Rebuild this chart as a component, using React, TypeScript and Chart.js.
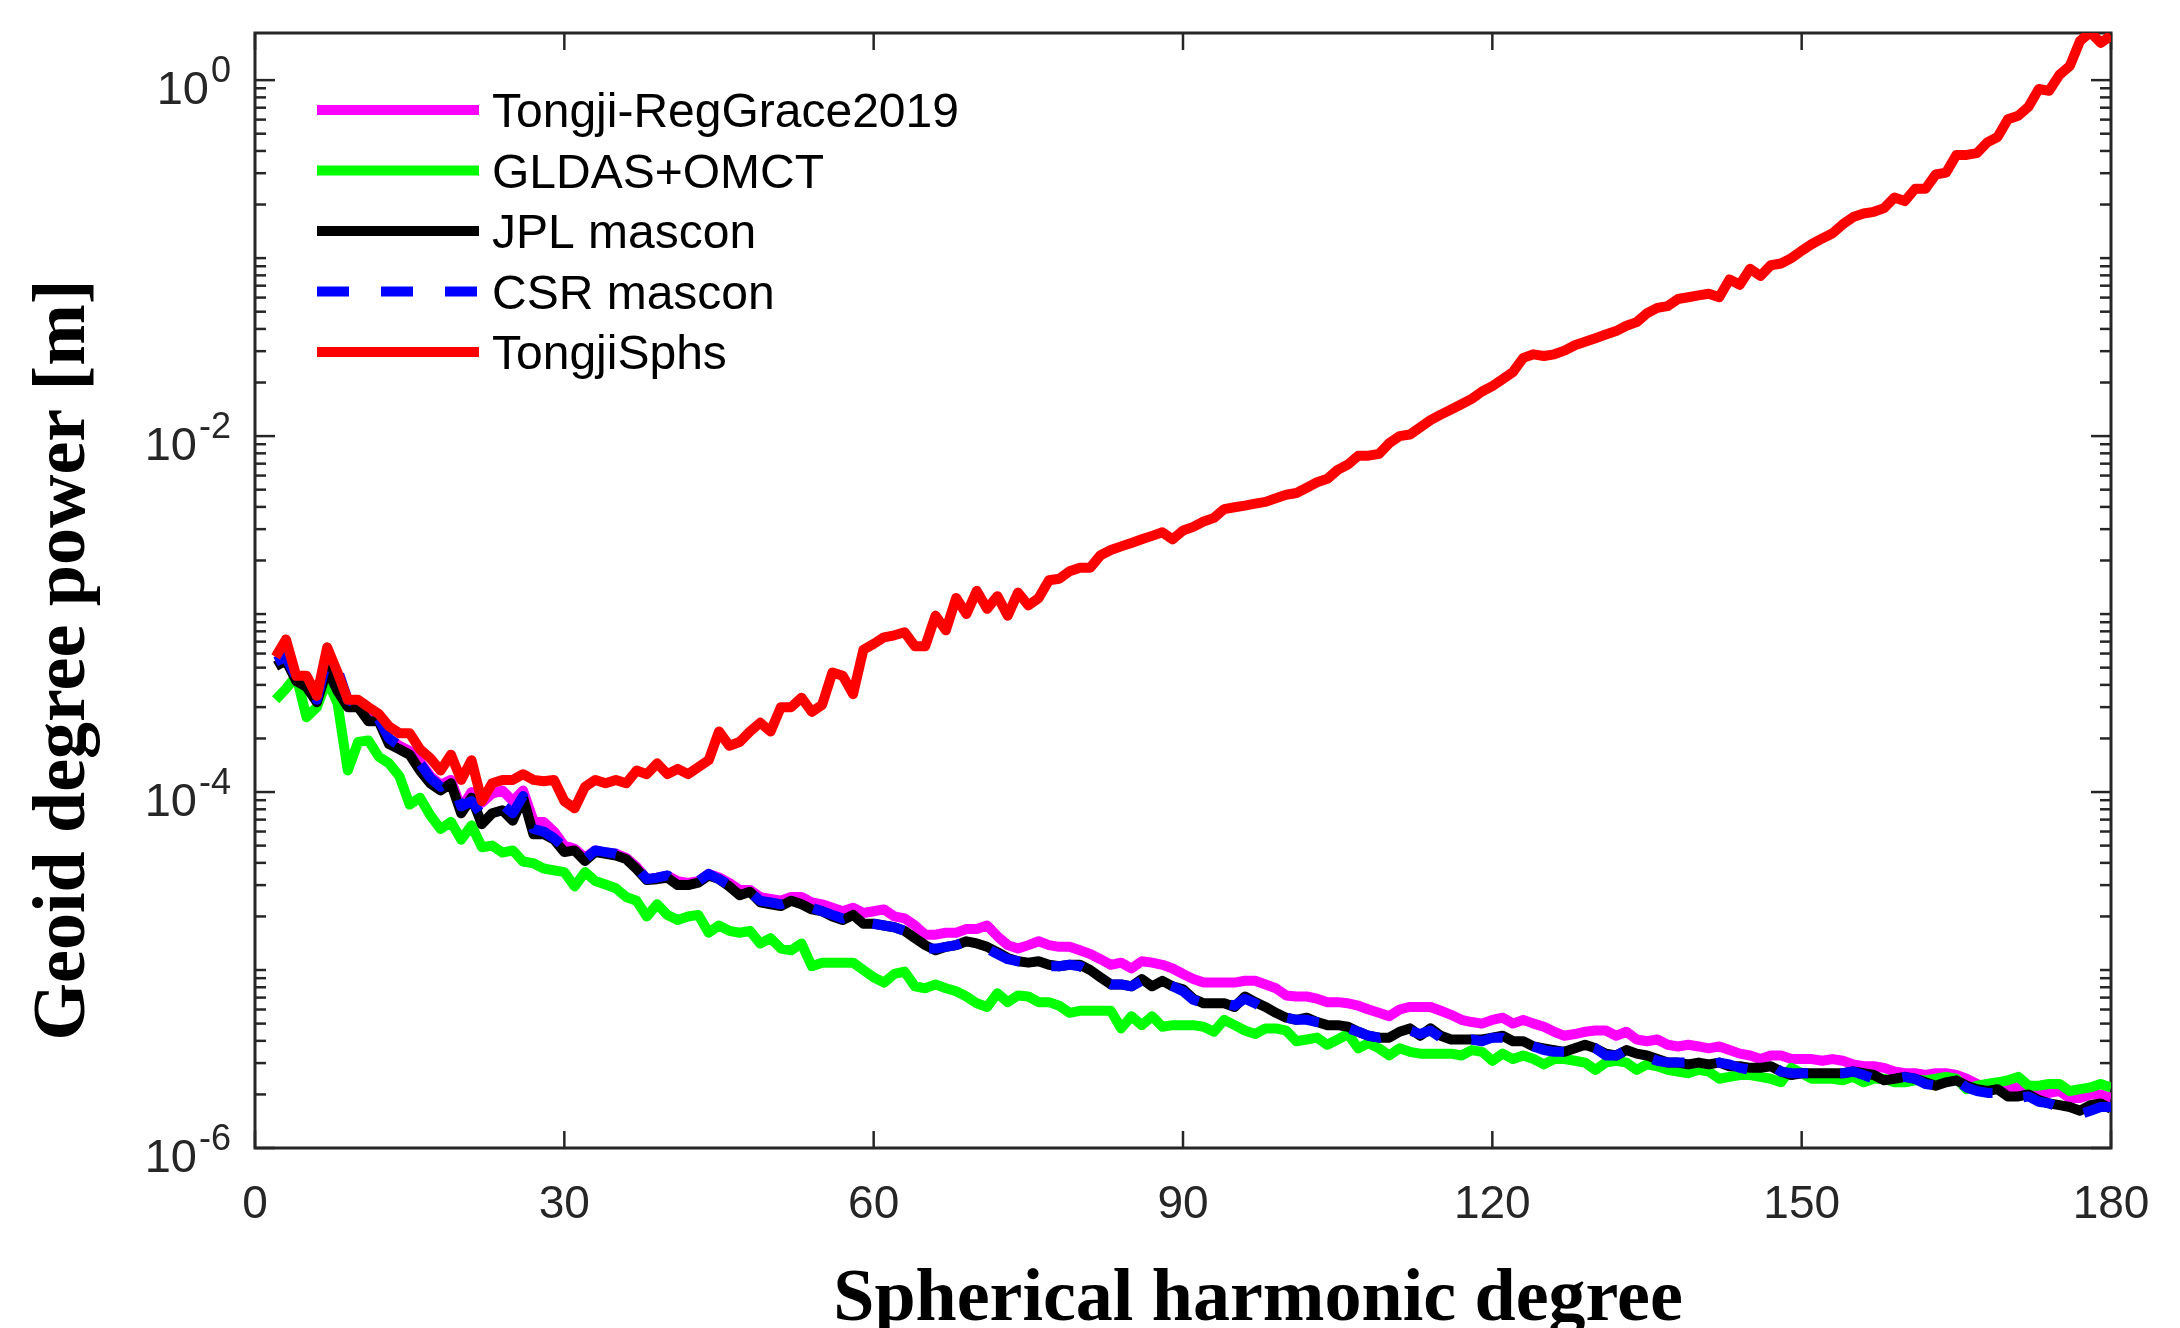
import React, { useEffect, useRef } from "react";
import { Chart, registerables } from "chart.js";

Chart.register(...registerables);

// Spherical harmonic degrees (x values)
const degrees = [
  2, 3, 4, 5, 6, 7, 8, 9, 10, 11,
  12, 13, 14, 15, 16, 17, 18, 19, 20, 21,
  22, 23, 24, 25, 26, 27, 28, 29, 30, 31,
  32, 33, 34, 35, 36, 37, 38, 39, 40, 41,
  42, 43, 44, 45, 46, 47, 48, 49, 50, 51,
  52, 53, 54, 55, 56, 57, 58, 59, 60, 61,
  62, 63, 64, 65, 66, 67, 68, 69, 70, 71,
  72, 73, 74, 75, 76, 77, 78, 79, 80, 81,
  82, 83, 84, 85, 86, 87, 88, 89, 90, 91,
  92, 93, 94, 95, 96, 97, 98, 99, 100, 101,
  102, 103, 104, 105, 106, 107, 108, 109, 110, 111,
  112, 113, 114, 115, 116, 117, 118, 119, 120, 121,
  122, 123, 124, 125, 126, 127, 128, 129, 130, 131,
  132, 133, 134, 135, 136, 137, 138, 139, 140, 141,
  142, 143, 144, 145, 146, 147, 148, 149, 150, 151,
  152, 153, 154, 155, 156, 157, 158, 159, 160, 161,
  162, 163, 164, 165, 166, 167, 168, 169, 170, 171,
  172, 173, 174, 175, 176, 177, 178, 179, 180,
];

// Tongji-RegGrace2019 (magenta)
const regGrace = [
  5.4e-4, 5.6e-4, 4.27e-4, 4.0e-4, 3.24e-4, 5.0e-4, 4.0e-4, 3.16e-4, 3.09e-4, 2.63e-4,
  2.57e-4, 2.0e-4, 1.82e-4, 1.7e-4, 1.48e-4, 1.23e-4, 1.1e-4, 1.17e-4, 8.1e-5, 1.0e-4,
  8.7e-5, 9.8e-5, 1.02e-4, 8.9e-5, 1.02e-4, 6.9e-5, 6.8e-5, 6.0e-5, 5.0e-5, 4.8e-5,
  4.27e-5, 4.7e-5, 4.57e-5, 4.5e-5, 4.27e-5, 3.8e-5, 3.24e-5, 3.3e-5, 3.39e-5, 3.16e-5,
  3.09e-5, 3.16e-5, 3.47e-5, 3.31e-5, 3.09e-5, 2.82e-5, 2.82e-5, 2.57e-5, 2.51e-5, 2.45e-5,
  2.57e-5, 2.57e-5, 2.4e-5, 2.34e-5, 2.24e-5, 2.14e-5, 2.24e-5, 2.09e-5, 2.14e-5, 2.19e-5,
  2.0e-5, 1.95e-5, 1.78e-5, 1.58e-5, 1.58e-5, 1.62e-5, 1.62e-5, 1.7e-5, 1.7e-5, 1.78e-5,
  1.55e-5, 1.38e-5, 1.32e-5, 1.38e-5, 1.45e-5, 1.38e-5, 1.35e-5, 1.35e-5, 1.29e-5, 1.23e-5,
  1.15e-5, 1.07e-5, 1.1e-5, 1.02e-5, 1.12e-5, 1.1e-5, 1.07e-5, 1.02e-5, 9.5e-6, 8.9e-6,
  8.5e-6, 8.5e-6, 8.5e-6, 8.5e-6, 8.7e-6, 8.7e-6, 8.3e-6, 7.9e-6, 7.2e-6, 7.1e-6,
  7.1e-6, 6.9e-6, 6.6e-6, 6.6e-6, 6.5e-6, 6.3e-6, 6.0e-6, 5.75e-6, 5.5e-6, 6.0e-6,
  6.2e-6, 6.2e-6, 6.2e-6, 5.9e-6, 5.6e-6, 5.25e-6, 5.1e-6, 5.0e-6, 5.25e-6, 5.4e-6,
  5.0e-6, 5.25e-6, 5.0e-6, 4.8e-6, 4.5e-6, 4.27e-6, 4.37e-6, 4.5e-6, 4.57e-6, 4.57e-6,
  4.27e-6, 4.5e-6, 4.07e-6, 3.98e-6, 4.07e-6, 3.8e-6, 3.72e-6, 3.8e-6, 3.72e-6, 3.63e-6,
  3.72e-6, 3.55e-6, 3.39e-6, 3.31e-6, 3.16e-6, 3.31e-6, 3.31e-6, 3.16e-6, 3.16e-6, 3.16e-6,
  3.09e-6, 3.16e-6, 3.09e-6, 2.95e-6, 2.88e-6, 2.88e-6, 2.82e-6, 2.69e-6, 2.63e-6, 2.63e-6,
  2.57e-6, 2.63e-6, 2.63e-6, 2.57e-6, 2.45e-6, 2.29e-6, 2.19e-6, 2.14e-6, 2.14e-6, 2.19e-6,
  2.14e-6, 2.04e-6, 2.04e-6, 2.09e-6, 1.91e-6, 1.91e-6, 2.0e-6, 2.0e-6, 1.91e-6,
];

// GLDAS+OMCT (green)
const gldasOmct = [
  3.3e-4, 3.8e-4, 4.5e-4, 2.63e-4, 3.0e-4, 4.27e-4, 3.16e-4, 1.32e-4, 1.91e-4, 1.95e-4,
  1.58e-4, 1.45e-4, 1.23e-4, 8.5e-5, 9.3e-5, 7.4e-5, 6.2e-5, 6.8e-5, 5.4e-5, 6.5e-5,
  4.9e-5, 5.0e-5, 4.57e-5, 4.7e-5, 4.07e-5, 3.98e-5, 3.72e-5, 3.63e-5, 3.55e-5, 2.95e-5,
  3.55e-5, 3.16e-5, 3.02e-5, 2.88e-5, 2.57e-5, 2.45e-5, 2.0e-5, 2.34e-5, 2.04e-5, 1.91e-5,
  2.0e-5, 2.04e-5, 1.62e-5, 1.78e-5, 1.66e-5, 1.62e-5, 1.66e-5, 1.41e-5, 1.51e-5, 1.32e-5,
  1.29e-5, 1.41e-5, 1.05e-5, 1.1e-5, 1.1e-5, 1.1e-5, 1.1e-5, 1.0e-5, 9.1e-6, 8.5e-6,
  9.5e-6, 9.8e-6, 8.1e-6, 7.9e-6, 8.3e-6, 7.9e-6, 7.6e-6, 7.1e-6, 6.5e-6, 6.2e-6,
  7.4e-6, 6.6e-6, 7.2e-6, 7.1e-6, 6.6e-6, 6.6e-6, 6.3e-6, 5.75e-6, 5.9e-6, 5.9e-6,
  5.9e-6, 5.9e-6, 4.7e-6, 5.5e-6, 4.9e-6, 5.5e-6, 4.8e-6, 4.9e-6, 4.9e-6, 4.9e-6,
  4.8e-6, 4.5e-6, 5.25e-6, 4.9e-6, 4.57e-6, 4.37e-6, 4.7e-6, 4.7e-6, 4.57e-6, 3.98e-6,
  4.07e-6, 4.17e-6, 3.8e-6, 4.07e-6, 4.37e-6, 3.63e-6, 3.89e-6, 3.63e-6, 3.31e-6, 3.63e-6,
  3.47e-6, 3.39e-6, 3.39e-6, 3.39e-6, 3.39e-6, 3.31e-6, 3.55e-6, 3.47e-6, 3.09e-6, 3.39e-6,
  3.16e-6, 3.31e-6, 3.16e-6, 2.95e-6, 3.16e-6, 3.16e-6, 3.09e-6, 3.02e-6, 2.75e-6, 3.02e-6,
  3.09e-6, 3.02e-6, 2.75e-6, 2.95e-6, 2.88e-6, 2.75e-6, 2.69e-6, 2.63e-6, 2.75e-6, 2.69e-6,
  2.45e-6, 2.51e-6, 2.57e-6, 2.57e-6, 2.51e-6, 2.45e-6, 2.34e-6, 2.82e-6, 2.63e-6, 2.45e-6,
  2.45e-6, 2.45e-6, 2.4e-6, 2.51e-6, 2.34e-6, 2.45e-6, 2.45e-6, 2.34e-6, 2.34e-6, 2.4e-6,
  2.4e-6, 2.45e-6, 2.51e-6, 2.45e-6, 2.14e-6, 2.24e-6, 2.29e-6, 2.34e-6, 2.4e-6, 2.51e-6,
  2.24e-6, 2.24e-6, 2.29e-6, 2.29e-6, 2.09e-6, 2.14e-6, 2.19e-6, 2.29e-6, 2.19e-6,
];

// JPL mascon (black)
const jplMascon = [
  5.1e-4, 5.5e-4, 4.2e-4, 3.9e-4, 3.2e-4, 4.9e-4, 3.7e-4, 3.0e-4, 3.0e-4, 2.5e-4,
  2.5e-4, 1.86e-4, 1.74e-4, 1.62e-4, 1.32e-4, 1.12e-4, 1.02e-4, 1.12e-4, 7.6e-5, 9.3e-5,
  6.6e-5, 7.6e-5, 7.9e-5, 6.9e-5, 9.3e-5, 5.8e-5, 5.8e-5, 5.4e-5, 4.6e-5, 4.7e-5,
  4.1e-5, 4.6e-5, 4.5e-5, 4.4e-5, 4.2e-5, 3.7e-5, 3.2e-5, 3.24e-5, 3.3e-5, 3.0e-5,
  3.0e-5, 3.1e-5, 3.4e-5, 3.24e-5, 2.95e-5, 2.63e-5, 2.75e-5, 2.4e-5, 2.34e-5, 2.29e-5,
  2.45e-5, 2.34e-5, 2.19e-5, 2.14e-5, 2.0e-5, 1.91e-5, 2.04e-5, 1.82e-5, 1.82e-5, 1.78e-5,
  1.74e-5, 1.66e-5, 1.51e-5, 1.38e-5, 1.29e-5, 1.35e-5, 1.38e-5, 1.45e-5, 1.41e-5, 1.35e-5,
  1.26e-5, 1.17e-5, 1.12e-5, 1.1e-5, 1.12e-5, 1.07e-5, 1.05e-5, 1.07e-5, 1.07e-5, 1.0e-5,
  9.1e-6, 8.3e-6, 8.3e-6, 8.1e-6, 8.9e-6, 8.1e-6, 8.7e-6, 8.1e-6, 7.8e-6, 6.9e-6,
  6.5e-6, 6.5e-6, 6.5e-6, 6.2e-6, 7.1e-6, 6.6e-6, 6.2e-6, 5.75e-6, 5.4e-6, 5.25e-6,
  5.4e-6, 5.1e-6, 4.9e-6, 4.9e-6, 4.8e-6, 4.5e-6, 4.27e-6, 4.17e-6, 4.17e-6, 4.5e-6,
  4.7e-6, 4.27e-6, 4.7e-6, 4.27e-6, 4.07e-6, 4.07e-6, 4.07e-6, 4.07e-6, 4.17e-6, 4.27e-6,
  3.98e-6, 3.98e-6, 3.72e-6, 3.63e-6, 3.55e-6, 3.47e-6, 3.63e-6, 3.8e-6, 3.63e-6, 3.39e-6,
  3.31e-6, 3.55e-6, 3.39e-6, 3.31e-6, 3.16e-6, 3.02e-6, 3.02e-6, 2.95e-6, 3.02e-6, 2.95e-6,
  3.02e-6, 2.88e-6, 2.88e-6, 2.82e-6, 2.82e-6, 2.88e-6, 2.69e-6, 2.57e-6, 2.63e-6, 2.63e-6,
  2.63e-6, 2.63e-6, 2.63e-6, 2.69e-6, 2.63e-6, 2.57e-6, 2.4e-6, 2.45e-6, 2.51e-6, 2.45e-6,
  2.34e-6, 2.24e-6, 2.34e-6, 2.4e-6, 2.24e-6, 2.14e-6, 2.09e-6, 2.14e-6, 1.95e-6, 1.95e-6,
  2.0e-6, 1.86e-6, 1.78e-6, 1.74e-6, 1.7e-6, 1.62e-6, 1.74e-6, 1.78e-6, 1.66e-6,
];

// CSR mascon (blue dashed)
const csrMascon = [
  5.4e-4, 5.75e-4, 4.4e-4, 4.1e-4, 3.3e-4, 5.6e-4, 4.9e-4, 3.3e-4, 3.1e-4, 2.63e-4,
  2.57e-4, 2.0e-4, 1.82e-4, 1.66e-4, 1.45e-4, 1.2e-4, 1.07e-4, 1.17e-4, 8.3e-5, 8.9e-5,
  7.4e-5, 8.3e-5, 8.5e-5, 7.6e-5, 9.5e-5, 6.2e-5, 6.0e-5, 5.5e-5, 4.9e-5, 4.7e-5,
  4.2e-5, 4.7e-5, 4.6e-5, 4.5e-5, 4.27e-5, 3.8e-5, 3.24e-5, 3.3e-5, 3.4e-5, 3.1e-5,
  3.1e-5, 3.16e-5, 3.47e-5, 3.24e-5, 3.0e-5, 2.69e-5, 2.75e-5, 2.45e-5, 2.4e-5, 2.34e-5,
  2.45e-5, 2.4e-5, 2.24e-5, 2.14e-5, 2.04e-5, 1.95e-5, 2.04e-5, 1.86e-5, 1.82e-5, 1.78e-5,
  1.74e-5, 1.66e-5, 1.48e-5, 1.32e-5, 1.32e-5, 1.35e-5, 1.38e-5, 1.45e-5, 1.41e-5, 1.32e-5,
  1.23e-5, 1.15e-5, 1.12e-5, 1.1e-5, 1.1e-5, 1.05e-5, 1.05e-5, 1.07e-5, 1.05e-5, 9.8e-6,
  8.9e-6, 8.3e-6, 8.3e-6, 8.1e-6, 8.7e-6, 8.3e-6, 8.5e-6, 8.1e-6, 7.6e-6, 6.8e-6,
  6.5e-6, 6.6e-6, 6.5e-6, 6.3e-6, 6.9e-6, 6.5e-6, 6.0e-6, 5.6e-6, 5.4e-6, 5.25e-6,
  5.25e-6, 5.1e-6, 5.0e-6, 4.9e-6, 4.7e-6, 4.5e-6, 4.27e-6, 4.17e-6, 4.27e-6, 4.57e-6,
  4.57e-6, 4.37e-6, 4.57e-6, 4.17e-6, 4.07e-6, 3.98e-6, 4.07e-6, 3.98e-6, 4.17e-6, 4.17e-6,
  3.89e-6, 3.89e-6, 3.72e-6, 3.55e-6, 3.47e-6, 3.47e-6, 3.72e-6, 3.8e-6, 3.63e-6, 3.31e-6,
  3.31e-6, 3.55e-6, 3.39e-6, 3.24e-6, 3.09e-6, 3.02e-6, 3.02e-6, 3.02e-6, 3.02e-6, 2.95e-6,
  3.02e-6, 2.95e-6, 2.82e-6, 2.75e-6, 2.82e-6, 2.95e-6, 2.69e-6, 2.63e-6, 2.63e-6, 2.63e-6,
  2.63e-6, 2.63e-6, 2.63e-6, 2.69e-6, 2.57e-6, 2.45e-6, 2.4e-6, 2.45e-6, 2.51e-6, 2.45e-6,
  2.29e-6, 2.24e-6, 2.4e-6, 2.4e-6, 2.19e-6, 2.09e-6, 2.04e-6, 2.04e-6, 1.91e-6, 1.91e-6,
  1.95e-6, 1.82e-6, 1.78e-6, 1.7e-6, 1.62e-6, 1.55e-6, 1.62e-6, 1.7e-6, 1.7e-6,
];

// TongjiSphs (red)
const tongjiSphs = [
  5.75e-4, 7.2e-4, 4.5e-4, 4.5e-4, 3.47e-4, 6.5e-4, 4.7e-4, 3.3e-4, 3.3e-4, 3.0e-4,
  2.75e-4, 2.34e-4, 2.14e-4, 2.14e-4, 1.74e-4, 1.55e-4, 1.32e-4, 1.62e-4, 1.17e-4, 1.51e-4,
  8.9e-5, 1.12e-4, 1.17e-4, 1.17e-4, 1.26e-4, 1.17e-4, 1.15e-4, 1.17e-4, 8.9e-5, 8.1e-5,
  1.07e-4, 1.17e-4, 1.12e-4, 1.17e-4, 1.12e-4, 1.32e-4, 1.26e-4, 1.45e-4, 1.26e-4, 1.35e-4,
  1.26e-4, 1.38e-4, 1.51e-4, 2.19e-4, 1.82e-4, 1.91e-4, 2.19e-4, 2.45e-4, 2.19e-4, 3.0e-4,
  3.0e-4, 3.39e-4, 2.82e-4, 3.09e-4, 4.7e-4, 4.5e-4, 3.55e-4, 6.3e-4, 6.8e-4, 7.4e-4,
  7.6e-4, 7.9e-4, 6.6e-4, 6.6e-4, 9.8e-4, 8.1e-4, 1.23e-3, 1.0e-3, 1.35e-3, 1.07e-3,
  1.26e-3, 9.8e-4, 1.32e-3, 1.12e-3, 1.23e-3, 1.55e-3, 1.58e-3, 1.74e-3, 1.82e-3, 1.82e-3,
  2.14e-3, 2.29e-3, 2.4e-3, 2.51e-3, 2.63e-3, 2.75e-3, 2.88e-3, 2.63e-3, 2.95e-3, 3.09e-3,
  3.31e-3, 3.47e-3, 3.89e-3, 3.98e-3, 4.07e-3, 4.17e-3, 4.27e-3, 4.47e-3, 4.68e-3, 4.79e-3,
  5.13e-3, 5.5e-3, 5.75e-3, 6.46e-3, 6.92e-3, 7.76e-3, 7.76e-3, 7.94e-3, 9.12e-3, 1.0e-2,
  1.02e-2, 1.12e-2, 1.23e-2, 1.32e-2, 1.41e-2, 1.51e-2, 1.62e-2, 1.78e-2, 1.91e-2, 2.09e-2,
  2.29e-2, 2.75e-2, 2.88e-2, 2.82e-2, 2.88e-2, 3.02e-2, 3.24e-2, 3.39e-2, 3.55e-2, 3.72e-2,
  3.89e-2, 4.17e-2, 4.37e-2, 4.9e-2, 5.25e-2, 5.37e-2, 5.89e-2, 6.03e-2, 6.17e-2, 6.31e-2,
  6.03e-2, 7.59e-2, 7.08e-2, 8.71e-2, 7.94e-2, 9.12e-2, 9.33e-2, 0.1, 0.11, 0.12,
  0.129, 0.138, 0.155, 0.17, 0.178, 0.182, 0.191, 0.219, 0.209, 0.245,
  0.245, 0.295, 0.302, 0.38, 0.38, 0.389, 0.447, 0.479, 0.603, 0.631,
  0.708, 0.891, 0.871, 1.07, 1.2, 1.66, 1.86, 1.62, 1.78,
];

const seriesNames = ["Tongji-RegGrace2019", "GLDAS+OMCT", "JPL mascon", "CSR mascon", "TongjiSphs"];
const xTickValues = [0, 30, 60, 90, 120, 150, 180];
const yLabelExponents = [-6, -4, -2, 0];
const xTitle = "Spherical harmonic degree";
const yTitle = "Geoid degree power [m]";

const X_MIN = 0;
const X_MAX = 180;
const Y_MIN = 1e-6;
const Y_MAX = 1.84;

const W = 2180;
const H = 1328;
const AXIS_COLOR = "#262626";
const SANS = '"Liberation Sans", Arial, Helvetica, sans-serif';
const SERIF = '"Liberation Serif", "Times New Roman", Times, serif';
const LINE_W = 10;

const seriesStyles = [
  { color: "#ff00ff", dash: [] as number[], order: 5 },
  { color: "#00ff00", dash: [] as number[], order: 4 },
  { color: "#000000", dash: [] as number[], order: 3 },
  { color: "#0000ff", dash: [32, 32], order: 2 },
  { color: "#ff0000", dash: [] as number[], order: 1 },
];

const seriesData = [regGrace, gldasOmct, jplMascon, csrMascon, tongjiSphs];

const matlabAxes = {
  id: "matlabAxes",
  beforeDatasetsDraw(chart: any) {
    const { ctx, chartArea: a } = chart;
    const xs = chart.scales.x;
    const ys = chart.scales.y;
    ctx.save();
    ctx.strokeStyle = AXIS_COLOR;
    ctx.lineCap = "butt";
    ctx.setLineDash([]);
    const seg = (x1: number, y1: number, x2: number, y2: number) => {
      ctx.beginPath();
      ctx.moveTo(x1, y1);
      ctx.lineTo(x2, y2);
      ctx.stroke();
    };
    ctx.lineWidth = 2.5;
    for (const v of xTickValues) {
      const px = xs.getPixelForValue(v);
      seg(px, a.bottom, px, a.bottom - 17);
      seg(px, a.top, px, a.top + 17);
    }
    for (let e = -6; e <= 0; e++) {
      for (let m = 1; m <= 9; m++) {
        const v = m * Math.pow(10, e);
        if (v < Y_MIN || v > Y_MAX) continue;
        const py = ys.getPixelForValue(v);
        const len = m === 1 && yLabelExponents.includes(e) ? 20 : 11;
        seg(a.left, py, a.left + len, py);
        seg(a.right, py, a.right - len, py);
      }
    }
    ctx.lineWidth = 3;
    ctx.strokeRect(a.left, a.top, a.right - a.left, a.bottom - a.top);
    ctx.restore();
  },
  afterDraw(chart: any) {
    const { ctx, chartArea: a } = chart;
    const xs = chart.scales.x;
    const ys = chart.scales.y;
    ctx.save();
    ctx.setLineDash([]);

    // x tick labels
    ctx.fillStyle = AXIS_COLOR;
    ctx.font = `46px ${SANS}`;
    ctx.textAlign = "center";
    ctx.textBaseline = "alphabetic";
    for (const v of xTickValues) {
      ctx.fillText(String(v), xs.getPixelForValue(v), a.bottom + 70);
    }

    // y tick labels 10^e
    for (const e of yLabelExponents) {
      const py = ys.getPixelForValue(Math.pow(10, e));
      const right = a.left - 24;
      const sup = String(e);
      ctx.textAlign = "right";
      ctx.font = `36px ${SANS}`;
      ctx.fillText(sup, right, py + 2);
      const sw = ctx.measureText(sup).width;
      ctx.font = `47px ${SANS}`;
      ctx.fillText("10", right - sw - 2, py + 24);
    }

    // legend
    const lx0 = a.left + 62;
    const lx1 = a.left + 224;
    const ly0 = a.top + 77;
    const ldy = 60.5;
    seriesNames.forEach((name, i) => {
      const st = seriesStyles[i];
      const y = ly0 + i * ldy;
      ctx.strokeStyle = st.color;
      ctx.lineWidth = LINE_W;
      ctx.lineCap = "butt";
      ctx.setLineDash(st.dash);
      ctx.beginPath();
      ctx.moveTo(lx0, y);
      ctx.lineTo(lx1, y);
      ctx.stroke();
      ctx.setLineDash([]);
      ctx.fillStyle = "#000000";
      ctx.font = `48px ${SANS}`;
      ctx.textAlign = "left";
      ctx.textBaseline = "alphabetic";
      ctx.fillText(name, lx1 + 13, y + 17);
    });

    // axis titles
    ctx.fillStyle = "#000000";
    ctx.font = `bold 74px ${SERIF}`;
    ctx.textAlign = "center";
    ctx.textBaseline = "alphabetic";
    ctx.fillText(xTitle, 1258, 1320);

    ctx.translate(84, 660);
    ctx.rotate(-Math.PI / 2);
    ctx.fillText(yTitle, 0, 0);
    ctx.restore();
  },
};

export default function App() {
  const ref = useRef<HTMLCanvasElement | null>(null);

  useEffect(() => {
    const canvas = ref.current;
    if (!canvas) return;
    const chart = new Chart(canvas, {
      type: "line",
      data: {
        labels: degrees,
        datasets: seriesNames.map((name, i) => ({
          label: name,
          data: seriesData[i],
          borderColor: seriesStyles[i].color,
          backgroundColor: seriesStyles[i].color,
          borderWidth: LINE_W,
          borderDash: seriesStyles[i].dash,
          borderCapStyle: "butt" as const,
          borderJoinStyle: "round" as const,
          pointRadius: 0,
          pointHoverRadius: 0,
          fill: false,
          tension: 0,
          order: seriesStyles[i].order,
        })),
      },
      options: {
        responsive: false,
        maintainAspectRatio: false,
        animation: false,
        devicePixelRatio: 1,
        events: [],
        layout: {
          autoPadding: false,
          padding: { left: 255, top: 33, right: W - 2111, bottom: H - 1148 },
        },
        plugins: {
          legend: { display: false },
          tooltip: { enabled: false },
          title: { display: false },
        },
        scales: {
          x: { type: "linear", min: X_MIN, max: X_MAX, display: false },
          y: { type: "logarithmic", min: Y_MIN, max: Y_MAX, display: false },
        },
      },
      plugins: [matlabAxes],
    } as any);
    return () => chart.destroy();
  }, []);

  return (
    <canvas
      ref={ref}
      width={W}
      height={H}
      style={{ position: "fixed", left: 0, top: 0, width: `${W}px`, height: `${H}px`, background: "#ffffff" }}
    />
  );
}
